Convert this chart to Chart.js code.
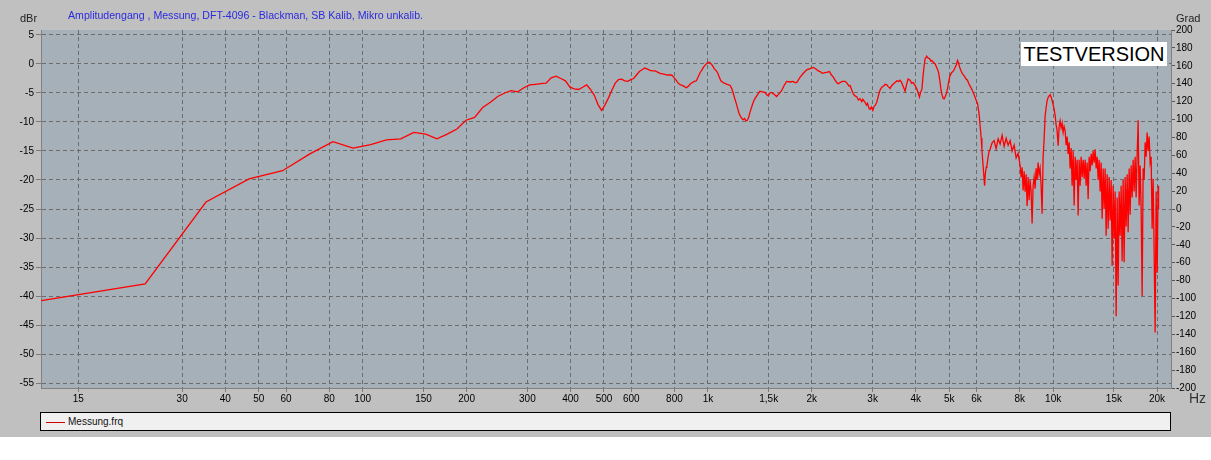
<!DOCTYPE html>
<html>
<head>
<meta charset="utf-8">
<script src="https://cdn.jsdelivr.net/npm/chart.js@4.4.1/dist/chart.umd.min.js"></script>
<style>
  html, body { margin: 0; padding: 0; background: #fff; }
  #panel { position: relative; width: 1211px; height: 437px; background: #c0c0c0; font-family: "Liberation Sans", Arial, sans-serif; }
  #cv { position: absolute; left: 0; top: 0; }
  .lbl { position: absolute; white-space: nowrap; }
  #title { left: 68px; top: 9px; font-size: 10.6px; color: #2a2ade; }
  #unitL { left: 20px; top: 12px; font-size: 11px; color: #222; }
  #unitR { left: 1176px; top: 12px; font-size: 11px; color: #222; }
  #unitX { left: 1189px; top: 390px; font-size: 14px; color: #333; }
  #stamp { left: 1021px; top: 42px; width: 146px; height: 24px; line-height: 24px; background: #fff; font-size: 20px; color: #000; text-align: center; }
  #legend { left: 40px; top: 412px; width: 1129px; height: 17px; background: #f0f0f0; border: 1px solid #000; }
  #legend .swatch { position: absolute; left: 5px; top: 9px; width: 19px; border-top: 1px solid #d00000; }
  #legend .txt { position: absolute; left: 27px; top: 3px; font-size: 10px; color: #111; }
</style>
</head>
<body>
<div id="panel">
  <canvas id="cv" width="1211" height="437"></canvas>
  <div class="lbl" id="title">Amplitudengang , Messung, DFT-4096 - Blackman, SB Kalib, Mikro unkalib.</div>
  <div class="lbl" id="unitL">dBr</div>
  <div class="lbl" id="unitR">Grad</div>
  <div class="lbl" id="unitX">Hz</div>
  <div class="lbl" id="stamp">TESTVERSION</div>
  <div class="lbl" id="legend"><span class="swatch"></span><span class="txt">Messung.frq</span></div>
</div>
<script>
// Achsen
const xTickValues = [15, 30, 40, 50, 60, 80, 100, 150, 200, 300, 400, 500, 600, 800, 1000, 1500, 2000, 3000, 4000, 5000, 6000, 8000, 10000, 15000, 20000];
const xTickLabels = ['15', '30', '40', '50', '60', '80', '100', '150', '200', '300', '400', '500', '600', '800', '1k', '1,5k', '2k', '3k', '4k', '5k', '6k', '8k', '10k', '15k', '20k'];
const dbTicks = [5, 0, -5, -10, -15, -20, -25, -30, -35, -40, -45, -50, -55];
const gradTicks = [200, 180, 160, 140, 120, 100, 80, 60, 40, 20, 0, -20, -40, -60, -80, -100, -120, -140, -160, -180, -200];

// Messung: untere Bins (DFT-4096)
const lowFreq = [
  11.72, 23.44, 35.16, 46.88, 58.59, 70.31, 82.03, 93.75, 105.47, 117.19,
  128.91, 140.63, 152.34, 164.06, 175.78, 187.5, 199.22, 210.94, 222.66, 234.38,
  246.09, 257.81, 269.53, 281.25, 292.97, 304.69, 316.41, 328.13, 339.84, 351.56,
  363.28, 375, 386.72, 398.44, 410.16, 421.88, 433.59, 445.31, 457.03, 468.75,
  480.47, 492.19, 503.91, 515.63, 527.34, 539.06, 550.78, 562.5, 574.22, 585.94,
  597.66, 609.38, 621.09, 632.81, 644.53, 656.25, 667.97, 679.69, 691.41, 703.13,
  714.84, 726.56, 738.28, 750, 761.72, 773.44, 785.16, 796.88, 808.59, 820.31,
  832.03, 843.75, 855.47, 867.19, 878.91, 890.63, 902.34, 914.06, 925.78, 937.5,
  949.22, 960.94, 972.66, 984.38, 996.09, 1007.81, 1019.53, 1031.25, 1042.97, 1054.69,
  1066.41, 1078.13, 1089.84, 1101.56, 1113.28, 1125, 1136.72, 1148.44, 1160.16, 1171.88,
  1183.59, 1195.31, 1207.03, 1218.75, 1230.47, 1242.19, 1253.91, 1265.63, 1277.34, 1289.06,
  1300.78, 1312.5, 1324.22, 1335.94, 1347.66, 1359.38, 1371.09
];
const lowDb = [
  -40.8, -37.9, -23.8, -19.8, -18.4, -15.5, -13.4, -14.5, -13.9, -13.1,
  -12.9, -11.8, -12.1, -12.9, -12.1, -11.2, -9.7, -9.2, -7.5, -6.6,
  -5.6, -5.0, -4.6, -4.8, -4.1, -3.6, -3.5, -3.4, -3.3, -2.4,
  -2.1, -2.5, -2.9, -4.0, -4.3, -4.4, -4.0, -3.6, -4.4, -5.4,
  -7.0, -8.0, -7.0, -5.8, -4.5, -3.3, -2.7, -2.6, -2.9, -3.0,
  -2.7, -2.5, -1.9, -1.3, -1.0, -0.7, -0.9, -1.1, -1.2, -1.2,
  -1.4, -1.6, -1.7, -1.8, -1.9, -1.9, -1.9, -2.3, -2.8, -3.3,
  -3.6, -3.7, -3.9, -4.1, -3.8, -3.4, -3.2, -3.0, -2.9, -2.2,
  -1.5, -1.0, -0.5, -0.1, 0.2, 0.3, 0.1, -0.3, -0.8, -1.1,
  -1.5, -2.2, -2.9, -3.1, -3.3, -3.4, -3.5, -3.6, -3.7, -4.2,
  -5.0, -5.9, -6.7, -7.6, -8.5, -9.0, -9.4, -9.6, -9.4, -9.8,
  -9.7, -9.2, -8.3, -7.6, -6.9, -6.3, -5.9
];

// Messung: Mitten
const midFreq = [
  1415, 1440, 1463, 1480, 1496, 1513, 1530, 1555, 1581, 1608,
  1635, 1660, 1690, 1729, 1765, 1788, 1808, 1848, 1890, 1932,
  1976, 2021, 2060, 2089, 2112, 2145, 2184, 2220, 2249, 2280,
  2311, 2335, 2370, 2389, 2414, 2450, 2496, 2530, 2560, 2581,
  2610, 2640, 2668, 2700, 2730, 2759, 2790, 2810, 2852, 2880,
  2900, 2930, 2949, 2975, 3003, 3030, 3055, 3084, 3120, 3153,
  3189, 3230, 3260, 3297, 3330, 3370, 3410, 3450, 3485, 3530,
  3570, 3603, 3640, 3680, 3725, 3760, 3800, 3851, 3890, 3930,
  3982, 4030, 4070, 4100, 4130, 4169, 4200, 4230, 4258, 4290,
  4306, 4350, 4390, 4420, 4454, 4500, 4552, 4600, 4655, 4700,
  4730, 4762, 4800, 4833, 4870, 4921, 4964, 5000, 5030, 5080,
  5143, 5200, 5250, 5284, 5320, 5370, 5420, 5463, 5520, 5597,
  5647, 5700, 5760, 5839, 5904, 5983, 6043, 6100, 6145, 6190,
  6218, 6250, 6290, 6332, 6360, 6400, 6430, 6482, 6530, 6569,
  6657, 6746, 6837, 6929, 7022, 7116, 7212, 7309, 7407, 7506,
  7607, 7709, 7813, 7918
];
const midDb = [
  -4.7, -4.8, -4.9, -5.3, -5.5, -5.0, -4.9, -5.2, -5.6, -5.1,
  -4.6, -3.8, -3.0, -3.1, -3.0, -3.2, -3.2, -2.3, -1.6, -1.0,
  -0.8, -0.6, -0.9, -1.2, -1.3, -1.6, -1.5, -1.4, -1.3, -1.9,
  -2.3, -2.8, -3.3, -3.4, -3.2, -3.0, -3.0, -3.3, -3.8, -3.7,
  -4.5, -5.2, -5.5, -5.7, -6.2, -6.0, -6.5, -6.1, -6.6, -7.1,
  -6.8, -7.7, -7.8, -7.4, -8.0, -7.3, -7.1, -6.6, -5.4, -4.5,
  -4.0, -3.8, -3.5, -3.6, -3.9, -4.2, -3.7, -3.4, -3.2, -2.9,
  -3.0, -2.8, -3.2, -3.9, -4.7, -3.6, -2.6, -2.8, -3.3, -3.2,
  -3.7, -4.3, -5.1, -5.7, -4.9, -4.3, -2.0, -0.3, 0.9, 1.2,
  1.3, 1.0, 0.9, 0.5, 0.6, 0.3, 0.0, -0.6, -1.4, -3.0,
  -4.3, -5.2, -5.9, -6.0, -5.6, -4.9, -3.6, -2.6, -2.0, -1.5,
  -1.2, -0.6, -0.1, 0.6, 0.2, -0.7, -1.3, -1.7, -2.0, -2.6,
  -2.8, -3.4, -3.9, -4.6, -5.3, -6.2, -6.9, -8.5, -10.6, -12.8,
  -14.7, -16.5, -18.7, -21.0, -19.0, -17.8, -17.5, -16.0, -15.0, -14.7,
  -13.6, -13.2, -14.6, -12.9, -13.8, -12.3, -14.2, -12.8, -14.0, -13.2,
  -15.0, -14.0, -16.2, -15.4
];

// Messung: Hochton (stark verrauscht)
const highFreq = [
  8024, 8078, 8132, 8186, 8241, 8296, 8351, 8407, 8463, 8520,
  8577, 8634, 8692, 8750, 8809, 8868, 8927, 8987, 9047, 9107,
  9168, 9230, 9291, 9354, 9416, 9479, 9543, 9607, 9671, 9736,
  9801, 9867, 9933, 10000, 10067, 10134, 10202, 10270, 10339, 10408,
  10478, 10548, 10619, 10690, 10761, 10833, 10906, 10979, 11052, 11126,
  11201, 11276, 11351, 11427, 11504, 11581, 11658, 11736, 11815, 11894,
  11974, 12054, 12135, 12216, 12298, 12380, 12463, 12546, 12630, 12715,
  12800, 12886, 12972, 13059, 13146, 13234, 13323, 13412, 13502, 13592,
  13683, 13775, 13867, 13960, 14053, 14147, 14242, 14337, 14433, 14530,
  14627, 14725, 14824, 14923, 15023, 15123, 15225, 15327, 15429, 15532,
  15636, 15741, 15846, 15952, 16059, 16166, 16275, 16384, 16493, 16604,
  16715, 16827, 16939, 17053, 17167, 17282, 17397, 17514, 17631, 17749,
  17868, 17987, 18108, 18229, 18351, 18474, 18597, 18722, 18847, 18973,
  19100, 19228, 19356, 19486, 19616, 19747, 19880, 20013, 20147, 20200
];
const highDb = [
  -17.5, -19.5, -17.8, -21.8, -18.5, -22.0, -19.0, -24.5, -19.5, -23.5,
  -20.0, -22.0, -27.5, -21.0, -19.5, -21.5, -18.0, -20.0, -17.0, -19.0,
  -18.0, -21.0, -25.8, -16.0, -13.0, -9.0, -7.5, -6.3, -5.8, -5.5,
  -5.3, -5.7, -6.3, -7.0, -7.8, -8.9, -10.5, -11.5, -14.1, -10.8,
  -9.8, -11.0, -10.2, -11.8, -10.8, -11.5, -14.0, -12.5, -15.5, -13.5,
  -18.0, -14.5, -21.0, -15.0, -24.4, -16.0, -20.0, -16.5, -26.1, -16.5,
  -21.0, -16.0, -19.5, -16.5, -19.8, -16.5, -21.0, -17.0, -23.3, -16.0,
  -18.5, -15.5, -17.5, -15.0, -17.0, -14.7, -18.0, -16.0, -20.0, -16.5,
  -22.0, -17.0, -26.7, -18.0, -25.0, -18.0, -29.6, -19.0, -28.4, -19.5,
  -27.0, -20.0, -34.8, -21.0, -30.0, -22.0, -43.5, -23.0, -38.2, -22.0,
  -29.6, -21.0, -34.0, -20.0, -34.2, -19.5, -28.0, -19.0, -29.0, -18.0,
  -26.0, -17.5, -23.0, -16.5, -22.0, -16.0, -23.0, -15.5, -9.7, -24.4,
  -17.5, -25.0, -40.0, -18.0, -20.0, -13.5, -16.0, -11.8, -15.0, -12.5,
  -17.0, -16.0, -28.4, -19.8, -32.5, -46.3, -22.0, -36.0, -21.0, -25.0
];

const freqHz = [...lowFreq, ...midFreq, ...highFreq];
const levelDb = [...lowDb, ...midDb, ...highDb];
const points = freqHz.map((f, i) => ({ x: f, y: levelDb[i] }));

const fontFam = '"Liberation Sans", Arial, sans-serif';

// Hintergrund der Zeichenfläche
const plotBg = {
  id: 'plotBg',
  beforeDraw(chart) {
    const a = chart.chartArea;
    const c = chart.ctx;
    c.save();
    c.fillStyle = '#a5b0b9';
    c.fillRect(a.left, a.top, a.right - a.left, a.bottom - a.top);
    c.restore();
  }
};

new Chart(document.getElementById('cv').getContext('2d'), {
  type: 'line',
  data: {
    datasets: [{
      label: 'Messung.frq',
      data: points,
      borderColor: '#ff0000',
      borderWidth: 1.3,
      pointRadius: 0,
      tension: 0,
      yAxisID: 'y'
    }]
  },
  options: {
    responsive: false,
    animation: false,
    layout: { padding: { top: 30, left: 0, right: 0, bottom: 0 } },
    plugins: { legend: { display: false }, title: { display: false }, tooltip: { enabled: false } },
    scales: {
      x: {
        type: 'logarithmic',
        min: 11.7,
        max: 21950,
        afterBuildTicks: s => { s.ticks = xTickValues.map(v => ({ value: v })); },
        afterFit: s => { s.height = 49; },
        ticks: {
          autoSkip: false, maxRotation: 0, minRotation: 0, padding: 1,
          color: '#000', font: { size: 10, family: fontFam },
          callback: (v, i) => xTickLabels[i]
        },
        grid: { color: '#6c6c6c', lineWidth: 1, tickLength: 4, tickColor: '#7a7a7a' },
        border: { display: true, color: '#808080', dash: [4, 3] }
      },
      y: {
        position: 'left',
        min: -55.86,
        max: 5.86,
        afterBuildTicks: s => { s.ticks = dbTicks.map(v => ({ value: v })); },
        afterFit: s => { s.width = 41; },
        ticks: { color: '#000', padding: 2, font: { size: 10, family: fontFam } },
        grid: { color: '#6c6c6c', lineWidth: 1, tickLength: 5, tickColor: '#7a7a7a' },
        border: { display: true, color: '#808080', dash: [4, 3] }
      },
      y2: {
        position: 'right',
        min: -200,
        max: 200,
        afterBuildTicks: s => { s.ticks = gradTicks.map(v => ({ value: v })); },
        afterFit: s => { s.width = 40; },
        ticks: { color: '#000', padding: 1, font: { size: 10, family: fontFam } },
        grid: { drawOnChartArea: false, tickLength: 4, tickColor: '#555' },
        border: { display: true, color: '#808080' }
      }
    }
  },
  plugins: [plotBg]
});
</script>
</body>
</html>
